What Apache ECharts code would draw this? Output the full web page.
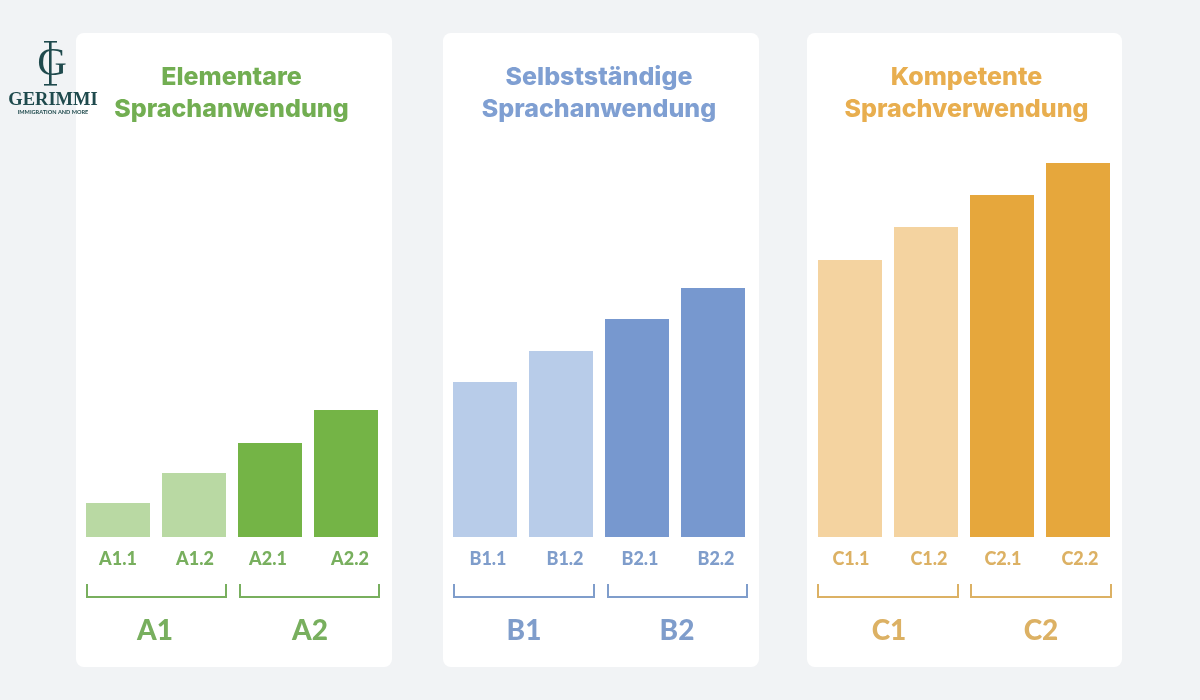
<!DOCTYPE html>
<html><head><meta charset="utf-8">
<style>html,body{margin:0;padding:0;background:#f1f3f5}#c{width:1200px;height:700px}</style>
<script src="https://cdn.jsdelivr.net/npm/echarts@6/dist/echarts.min.js"></script>
</head><body><div id="c"></div>
<script>
const titleA = 'Elementare\nSprachanwendung';
const titleB = 'Selbstständige\nSprachanwendung';
const titleC = 'Kompetente\nSprachverwendung';
const catsA = ['A1.1','A1.2','A2.1','A2.2'];
const catsB = ['B1.1','B1.2','B2.1','B2.2'];
const catsC = ['C1.1','C1.2','C2.1','C2.2'];
const valuesA = [34,64,94,127];
const valuesB = [155,186,218,249];
const valuesC = [277,310,342,374];
const groupsA = ['A1','A2'];
const groupsB = ['B1','B2'];
const groupsC = ['C1','C2'];

const FONT = 'Lato, "Open Sans", sans-serif';
const TITLE_FONT = 'Inter, "Open Sans", sans-serif';
const panels = [
 {x:76,w:316,gridLeft:80,title:titleA,tx:226.5,cats:catsA,vals:valuesA,groups:groupsA,
  dark:'#74b446',light:'#b9d9a3',text:'#72ae52',sub:'#78af5e',
  off:[0,1,-2,4],br:[[87,226],[240,379]],gx:[155,310]},
 {x:443,w:316,gridLeft:447,title:titleB,tx:594,cats:catsB,vals:valuesB,groups:groupsB,
  dark:'#7798cf',light:'#b8cce9',text:'#7f9fd2',sub:'#7f9dcb',
  off:[3,4,3,3],br:[[454,594],[608,747]],gx:[524,677]},
 {x:807,w:315,gridLeft:812,title:titleC,tx:961.5,cats:catsC,vals:valuesC,groups:groupsC,
  dark:'#e6a73c',light:'#f4d3a0',text:'#e8ae4f',sub:'#dcb164',
  off:[1,3,1,2],br:[[818,958],[971,1111]],gx:[889,1041]}
];
const graphic = [];
panels.forEach(p=>{
  graphic.push({type:'rect',z:-1,shape:{x:p.x,y:33,width:p.w,height:634,r:8},style:{fill:'#ffffff'}});
  p.br.forEach((b,i)=>{
    graphic.push({type:'polyline',shape:{points:[[b[0],584],[b[0],597],[b[1],597],[b[1],584]]},
      style:{fill:'none',stroke:p.sub,lineWidth:2}});
    graphic.push({type:'text',style:{text:p.groups[i],x:p.gx[i],y:631,align:'center',verticalAlign:'middle',
      font:'900 28px '+FONT,fill:p.sub}});
  });
});
const LOGO='#1f4a4d';
const SERIF='"Liberation Serif","DejaVu Serif",serif';
graphic.push(
 {type:'text',z:5,style:{text:'G',x:52,y:64,align:'center',verticalAlign:'middle',font:'41px '+SERIF,fill:LOGO}},
 {type:'rect',z:5,shape:{x:49,y:42,width:2.6,height:43},style:{fill:LOGO}},
 {type:'rect',z:5,shape:{x:44,y:41,width:13,height:1.6},style:{fill:LOGO}},
 {type:'rect',z:5,shape:{x:44,y:84,width:13,height:1.6},style:{fill:LOGO}},
 {type:'text',z:5,style:{text:'GERIMMI',x:53,y:100.5,align:'center',verticalAlign:'middle',font:'700 18.5px '+SERIF,fill:LOGO}},
 {type:'text',z:5,style:{text:'IMMIGRATION AND MORE',x:53,y:112,align:'center',verticalAlign:'middle',font:'700 5.6px '+FONT,fill:LOGO}}
);
const chart = echarts.init(document.getElementById('c'));
chart.setOption({
  backgroundColor:'#f1f3f5',
  animation:false,
  title:panels.map(p=>({text:p.title,left:p.tx,top:56,textAlign:'center',
    textStyle:{fontFamily:TITLE_FONT,fontWeight:800,fontSize:25,lineHeight:32,color:p.text}})),
  grid:panels.map(p=>({left:p.gridLeft,top:137,width:304,height:400})),
  xAxis:panels.map((p,i)=>({type:'category',gridIndex:i,
    data:p.cats.map((c,j)=>({value:c,textStyle:{padding:p.off[j]>=0?[0,0,0,2*p.off[j]]:[0,-2*p.off[j],0,0]}})),
    axisLine:{show:false},axisTick:{show:false},
    axisLabel:{interval:0,margin:13,fontFamily:FONT,fontWeight:900,fontSize:18,color:p.sub}})),
  yAxis:panels.map((p,i)=>({type:'value',gridIndex:i,min:0,max:400,show:false})),
  series:panels.map((p,i)=>({type:'bar',xAxisIndex:i,yAxisIndex:i,barWidth:64,
    data:p.vals.map((v,j)=>({value:v,itemStyle:{color:j<2?p.light:p.dark}}))})),
  graphic:graphic
});
</script></body></html>
